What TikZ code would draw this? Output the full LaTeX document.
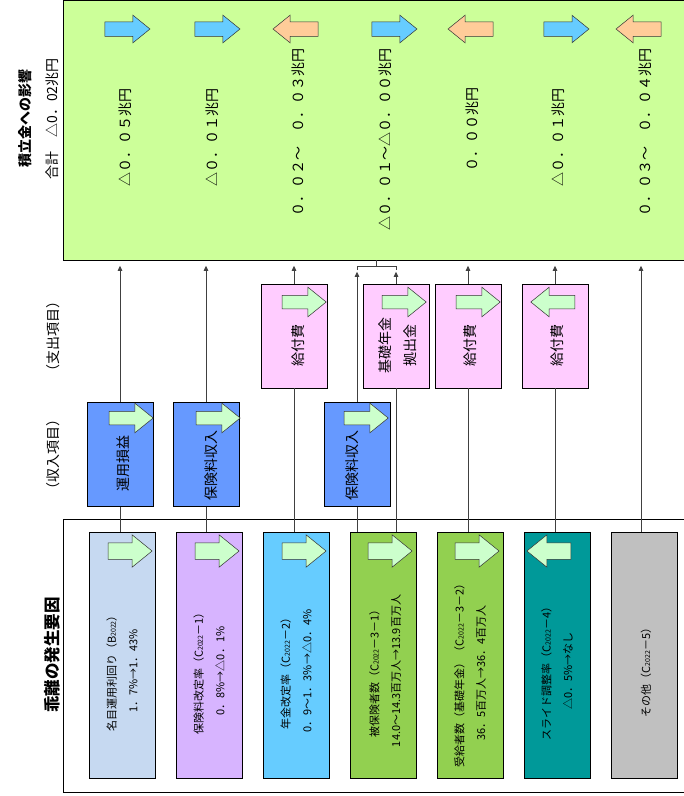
\documentclass[tikz,border=0pt]{standalone}
\usepackage{fontspec}
\setmainfont{Noto Sans CJK JP}
\usetikzlibrary{arrows.meta,shapes.arrows}
\definecolor{impactgreen}{HTML}{CCFF99}
\definecolor{upblue}{HTML}{66CCFF}
\definecolor{downorange}{HTML}{FFCC99}
\definecolor{paleblue}{HTML}{C6D9F1}
\definecolor{lavender}{HTML}{D7B4FF}
\definecolor{skyblue}{HTML}{66CCFF}
\definecolor{leafgreen}{HTML}{92D050}
\definecolor{teal}{HTML}{009999}
\definecolor{midgray}{HTML}{C0C0C0}
\definecolor{incomeblue}{HTML}{6699FF}
\definecolor{costpink}{HTML}{FFCCFF}
\definecolor{mint}{HTML}{CCFFCC}
\newcommand{\yr}{{\fontsize{7}{7}\selectfont 2022}}

\tikzset{
  impactbox/.style={draw=black, line width=0.8pt, fill=impactgreen, minimum width=630pt, minimum height=260pt, inner sep=0pt},
  factorbox/.style={draw=black, line width=0.8pt, minimum width=66pt, minimum height=246pt, inner sep=0pt},
  itembox/.style={draw=black, line width=0.8pt, minimum width=66pt, minimum height=104pt, inner sep=0pt},
  vtext/.style={rotate=90, align=center, inner sep=0pt},
  ftext/.style={vtext, font=\fontsize{11}{21.5}\selectfont},
  btext/.style={vtext, font=\fontsize{14}{25}\selectfont},
  vvalue/.style={vtext, font=\fontsize{14}{16}\selectfont},
  titlebf/.style={vtext, font=\bfseries\fontsize{14}{16}\selectfont},
  bigarrow/.style={single arrow, draw=black!80, line width=0.5pt, inner xsep=0pt, single arrow tip angle=78},
  toparrow/.style={bigarrow, minimum height=45pt, inner ysep=7pt, single arrow head extend=6.5pt},
  facarrow/.style={bigarrow, fill=mint, minimum height=44pt, inner ysep=8pt, single arrow head extend=8pt},
  boxarrow/.style={bigarrow, fill=mint, minimum height=44pt, inner ysep=6.5pt, single arrow head extend=8pt},
  back/.style={shape border rotate=180},
  link/.style={draw=black!75, line width=0.8pt},
  conn/.style={link, -{Triangle[length=5pt,width=4.5pt]}, shorten >=5pt}
}

\begin{document}
\begin{tikzpicture}[x=1pt,y=-1pt]
\useasboundingbox (0,0) rectangle (684,796);

\node[impactbox, anchor=north west] (impact) at (63,0) {};
\node[titlebf] (ttl) at (25,118) {積立金への影響};
\node[vvalue] (total) at (52,119) {合計　△0．02兆円};

\node[toparrow, fill=upblue] (a1) at (123,29) {};
\node[toparrow, fill=upblue] (a2) at (213,29) {};
\node[toparrow, fill=downorange, back] (a3) at (300,29) {};
\node[toparrow, fill=upblue] (a4) at (390,29) {};
\node[toparrow, fill=downorange, back] (a5) at (475,29) {};
\node[toparrow, fill=upblue] (a6) at (562,29) {};
\node[toparrow, fill=downorange, back] (a7) at (643,29) {};

\node[vvalue] (v1) at (125,137) {△０．０５兆円};
\node[vvalue] (v2) at (212,137) {△０．０１兆円};
\node[vvalue] (v3) at (298,132) {０．０２～　０．０３兆円};
\node[vvalue] (v4) at (385,139) {△０．０１～△０．００兆円};
\node[vvalue] (v5) at (472,129) {０．００兆円};
\node[vvalue] (v6) at (558,137) {△０．０１兆円};
\node[vvalue] (v7) at (645,132) {０．０３～　０．０４兆円};

\node[vvalue] (hout) at (53,336) {（支出項目）};
\node[vvalue] (hin) at (53,454) {（収入項目）};
\node[titlebf, font=\bfseries\fontsize{16.5}{18}\selectfont] (hfac) at (52,655) {乖離の発生要因};

\draw[line width=0.8pt] (690,519) -| (63,792) -- (690,792);

\node[factorbox, fill=paleblue] (f1) at (122,655) {};
\node[factorbox, fill=lavender] (f2) at (209,655) {};
\node[factorbox, fill=skyblue] (f3) at (296,655) {};
\node[factorbox, fill=leafgreen] (f4) at (383,655) {};
\node[factorbox, fill=leafgreen] (f5) at (470,655) {};
\node[factorbox, fill=teal] (f6) at (557,655) {};
\node[factorbox, fill=midgray] (f7) at (644,655) {};

\node[itembox, fill=incomeblue] (i1) at (120,454.5) {};
\node[itembox, fill=incomeblue] (i2) at (206,454.5) {};
\node[itembox, fill=incomeblue] (i4) at (357,454.5) {};
\node[itembox, fill=costpink] (e3) at (294,336) {};
\node[itembox, fill=costpink] (e4) at (396,336) {};
\node[itembox, fill=costpink] (e5) at (468,336) {};
\node[itembox, fill=costpink] (e6) at (555,336) {};

\draw[link] (f1.north -| i1.south) -- (i1.south);
\draw[link] (f2.north -| i2.south) -- (i2.south);
\draw[link] (f3.north -| e3.south) -- (e3.south);
\draw[link] (f4.north -| i4.south) -- (i4.south);
\draw[link] (f4.north -| e4.south) -- (e4.south);
\draw[link] (f5.north -| e5.south) -- (e5.south);
\draw[link] (f6.north -| e6.south) -- (e6.south);
\draw[conn] (i1.north) -- (i1.north |- impact.south);
\draw[conn] (i2.north) -- (i2.north |- impact.south);
\draw[conn] (e3.north) -- (e3.north |- impact.south);
\draw[conn, shorten >=11pt] (i4.north) -- (i4.north |- impact.south);
\draw[conn, shorten >=11pt] (e4.north) -- (e4.north |- impact.south);
\draw[link] (357,270) -- (357,266) -- (396,266) -- (396,270);
\draw[link] (376.5,266) -- (376.5,260);
\draw[conn] (e5.north) -- (e5.north |- impact.south);
\draw[conn] (e6.north) -- (e6.north |- impact.south);
\draw[conn] ([xshift=-3pt]f7.north) -- ([xshift=-3pt]f7.north |- impact.south);

\node[facarrow] (f1a) at (125,551) {};
\node[facarrow] (f2a) at (212,551) {};
\node[facarrow] (f3a) at (299,551) {};
\node[facarrow] (f4a) at (385,551) {};
\node[facarrow] (f5a) at (472,551) {};
\node[facarrow, back] (f6a) at (554,551) {};

\node[boxarrow] (i1a) at (127,418) {};
\node[boxarrow] (i2a) at (214,418) {};
\node[boxarrow] (i4a) at (362,418) {};
\node[boxarrow] (e3a) at (300,302) {};
\node[boxarrow] (e4a) at (400,302) {};
\node[boxarrow] (e5a) at (474,302) {};
\node[boxarrow, back] (e6a) at (557,302) {};

\node[btext] (i1t) at (123,463) {運用損益};
\node[btext] (i2t) at (211,465) {保険料収入};
\node[btext] (i4t) at (352,465) {保険料収入};
\node[btext] (e3t) at (298,345) {給付費};
\node[btext] (e4t) at (398,345) {基礎年金\\拠出金};
\node[btext] (e5t) at (470,345) {給付費};
\node[btext] (e6t) at (557,345) {給付費};

\node[ftext] (f1t) at (122,671) {名目運用利回り（B\yr）\\1．7\%→1．43\%};
\node[ftext] (f2t) at (209,671) {保険料改定率（C\yr－1）\\0．8\%→△0．1\%};
\node[ftext] (f3t) at (296,671) {年金改定率（C\yr－2）\\0．9～1．3\%→△0．4\%};
\node[ftext] (f4t) at (385,671) {被保険者数（C\yr－3－1）\\14.0～14.3百万人→13.9百万人};
\node[ftext] (f5t) at (470,673) {受給者数（基礎年金）（C\yr－3－2）\\36．5百万人→36．4百万人};
\node[ftext] (f6t) at (557,671) {スライド調整率（C\yr－4）\\△0．5\%→なし};
\node[ftext] (f7t) at (646,670) {その他（C\yr－5）};
\end{tikzpicture}
\end{document}
